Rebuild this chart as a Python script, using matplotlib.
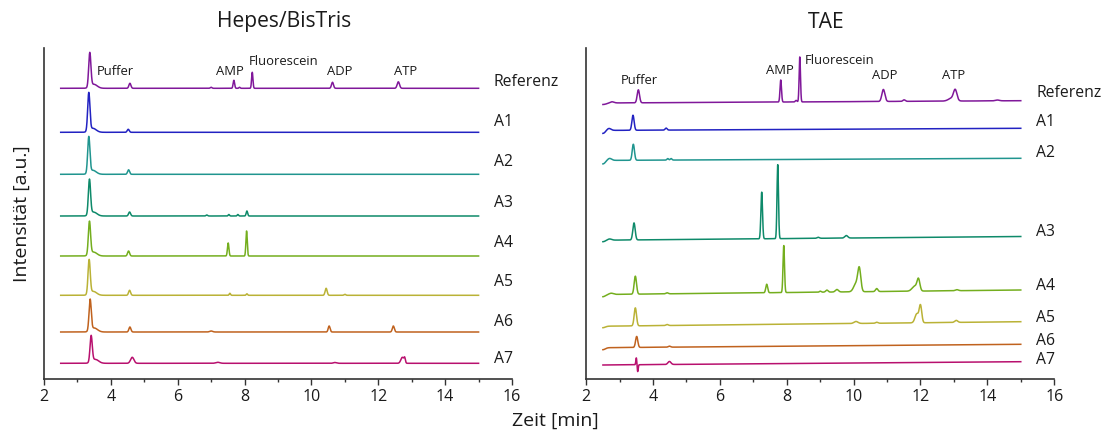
import numpy as np
import matplotlib
matplotlib.use("Agg")
import matplotlib.pyplot as plt
from matplotlib.ticker import MultipleLocator

plt.rcParams['font.family'] = ['Open Sans', 'DejaVu Sans']

# ---------------------------------------------------------------------------
# Samples and trace colours
samples = ["Referenz", "A1", "A2", "A3", "A4", "A5", "A6", "A7"]
colors = ["#80189A", "#2222C2", "#20958F", "#0E8A6A",
          "#74AE1E", "#BAB236", "#C0621E", "#B8106E"]

# Peak tables for each chromatogram: (retention time [min], height, sigma [min])
# --- Hepes/BisTris buffer ---
hb_ref = [(3.37, 34, .033), (3.49, 4, .1), (4.57, 5, .03), (7.0, 1, .025),
          (7.68, 8, .022), (7.85, 1, .02), (8.23, 16, .02), (10.63, 6, .03),
          (12.60, 6.5, .035)]
hb_a1 = [(3.34, 38, .033), (3.46, 4, .1), (4.52, 3, .03)]
hb_a2 = [(3.34, 36, .033), (3.46, 4, .1), (4.53, 4.5, .03)]
hb_a3 = [(3.36, 35, .033), (3.48, 4, .1), (4.56, 4, .03), (6.87, 1, .025),
         (7.53, 1.5, .02), (7.80, 1.5, .02), (8.07, 5, .022)]
hb_a4 = [(3.36, 33, .033), (3.48, 4, .1), (4.53, 5, .03), (7.51, 13, .022),
         (8.06, 25, .02)]
hb_a5 = [(3.35, 34, .033), (3.47, 4, .1), (4.56, 5, .03), (7.56, 2, .02),
         (8.07, 1.5, .02), (10.44, 7, .03), (11.0, 1, .025)]
hb_a6 = [(3.38, 31, .033), (3.50, 4, .1), (4.57, 5, .03), (7.0, 1, .045),
         (10.53, 6, .028), (12.45, 6, .03)]
hb_a7 = [(3.41, 26, .033), (3.53, 4, .1), (4.64, 6, .05), (7.2, 1, .06),
         (10.7, 0.8, .045), (12.72, 6, .045), (12.79, 4.5, .02)]
# baseline level of each trace (start, end)
hb_base_start = [290.7, 246.7, 204.7, 163.0, 123.0, 83.7, 47.0, 15.7]
hb_base_end = [290.7, 246.7, 204.7, 163.0, 123.0, 83.7, 47.0, 15.7]

# --- TAE buffer ---
tae_ref = [(2.5, -1.5, .1), (2.77, 1.2, .06), (3.56, 13, .035), (7.82, 22, .022),
           (8.28, 1.5, .025), (8.39, 45, .02), (10.89, 12, .045),
           (11.51, 1.5, .035), (12.94, 3, .1), (13.04, 10, .05), (14.3, 0.8, .06)]
tae_a1 = [(2.5, -3, .07), (2.68, 2, .06), (3.40, 15, .033), (4.39, 2, .03)]
tae_a2 = [(2.5, -3.5, .07), (2.70, 2, .06), (3.41, 16, .033), (4.44, 1.5, .025),
          (4.54, 1.5, .025)]
tae_a3 = [(2.5, -1.5, .07), (2.70, 1.2, .06), (3.43, 17, .035), (7.25, 46.7, .024),
          (7.73, 74, .022), (8.94, 1, .035), (9.78, 2.5, .045)]
tae_a4 = [(2.5, -2.2, .07), (2.75, 1.2, .06), (3.47, 18, .035), (4.42, 1, .035),
          (7.40, 8.5, .028), (7.91, 47, .022), (9.0, 1, .025), (9.2, 2, .035),
          (9.5, 2.5, .045), (10.07, 8, .07), (10.17, 22, .045), (10.69, 3, .035),
          (11.83, 5, .08), (11.94, 11, .042), (13.09, 1, .045)]
tae_a5 = [(2.5, -1.5, .07), (3.47, 18, .035), (4.42, 1, .035), (10.07, 2, .06),
          (10.69, 1, .035), (11.89, 9, .055), (12.0, 17, .038), (13.07, 2, .045)]
tae_a6 = [(2.5, -2, .07), (3.51, 11, .033), (4.49, 1, .035)]
tae_a7 = [(3.50, 7, .015), (3.54, -7, .015), (4.49, 3, .045)]
tae_base_start = [276.0, 248.6, 218.6, 138.8, 84.5, 52.8, 31.3, 14.0]
tae_base_end = [278.3, 250.7, 220.7, 142.5, 89.0, 57.3, 34.7, 17.3]

# Peak assignments written above the reference trace: (text, time, height)
hb_peak_labels = [("Puffer", 4.12, 308), ("AMP", 7.56, 308),
                  ("Fluorescein", 9.16, 317.5), ("ADP", 10.85, 308),
                  ("ATP", 12.81, 308)]
tae_peak_labels = [("Puffer", 3.60, 299), ("AMP", 7.80, 308.5),
                   ("Fluorescein", 9.58, 319), ("ADP", 10.93, 304),
                   ("ATP", 13.00, 304)]

# Sample names at the right end of each trace
hb_name_y = [297.3, 257.3, 217.3, 175.7, 136.3, 96.7, 57.3, 20.0]
tae_name_y = [285.7, 256.7, 225.7, 147.3, 93.3, 60.7, 38.3, 19.0]

t = np.linspace(2.5, 15.0, 4000)


def trace(peaks, b0, b1):
    y = b0 + (b1 - b0) * (t - t[0]) / (t[-1] - t[0])
    for tr, h, s in peaks:
        y = y + h * np.exp(-0.5 * ((t - tr) / s) ** 2)
    return y


panels = [
    ("Hepes/BisTris", [hb_ref, hb_a1, hb_a2, hb_a3, hb_a4, hb_a5, hb_a6, hb_a7],
     hb_base_start, hb_base_end, hb_peak_labels, hb_name_y),
    ("TAE", [tae_ref, tae_a1, tae_a2, tae_a3, tae_a4, tae_a5, tae_a6, tae_a7],
     tae_base_start, tae_base_end, tae_peak_labels, tae_name_y),
]

W, H = 1108, 434
fig = plt.figure(figsize=(W / 100, H / 100), dpi=100)
axes_left_px = [44, 586.2]
ax_w_px = 468
ax_bottom_px, ax_top_px = 379, 48

for (title, peak_sets, b0s, b1s, plabels, name_y), x0 in zip(panels, axes_left_px):
    ax = fig.add_axes([x0 / W, 1 - ax_bottom_px / H, ax_w_px / W,
                       (ax_bottom_px - ax_top_px) / H])
    for name, col, pk, b0, b1, ny in zip(samples, colors, peak_sets, b0s, b1s, name_y):
        ax.plot(t, trace(pk, b0, b1), color=col, lw=1.1)
        ax.text(15.46, ny, name, fontsize=11.3, color="#1a1a1a",
                ha="left", va="center")
    for txt, px, py in plabels:
        ax.text(px, py, txt, fontsize=9.4, color="#1a1a1a",
                ha="center", va="center")
    ax.set_xlim(2, 16)
    ax.set_ylim(0, ax_bottom_px - ax_top_px)
    ax.set_yticks([])
    ax.xaxis.set_major_locator(MultipleLocator(2))
    ax.xaxis.set_minor_locator(MultipleLocator(1))
    ax.tick_params(axis="x", which="major", direction="out", length=4.5,
                   width=1.0, color="#333333", labelsize=11.5, pad=2.5,
                   labelcolor="#1a1a1a")
    ax.tick_params(axis="x", which="minor", direction="out", length=2.5,
                   width=1.0, color="#333333")
    for side in ("top", "right"):
        ax.spines[side].set_visible(False)
    for side in ("left", "bottom"):
        ax.spines[side].set_color("#333333")
        ax.spines[side].set_linewidth(1.2)
    fig.text((x0 + ax_w_px / 2 + 6) / W, 1 - 22 / H, title, fontsize=15.2,
             ha="center", va="center", color="#1a1a1a")

fig.text(555 / W, 1 - 421 / H, "Zeit [min]", fontsize=14, ha="center",
         va="center", color="#1a1a1a")
fig.text(22 / W, 1 - 214 / H, "Intensität [a.u.]", fontsize=14, ha="center",
         va="center", rotation=90, color="#1a1a1a")

fig.savefig("out.png", dpi=100)
